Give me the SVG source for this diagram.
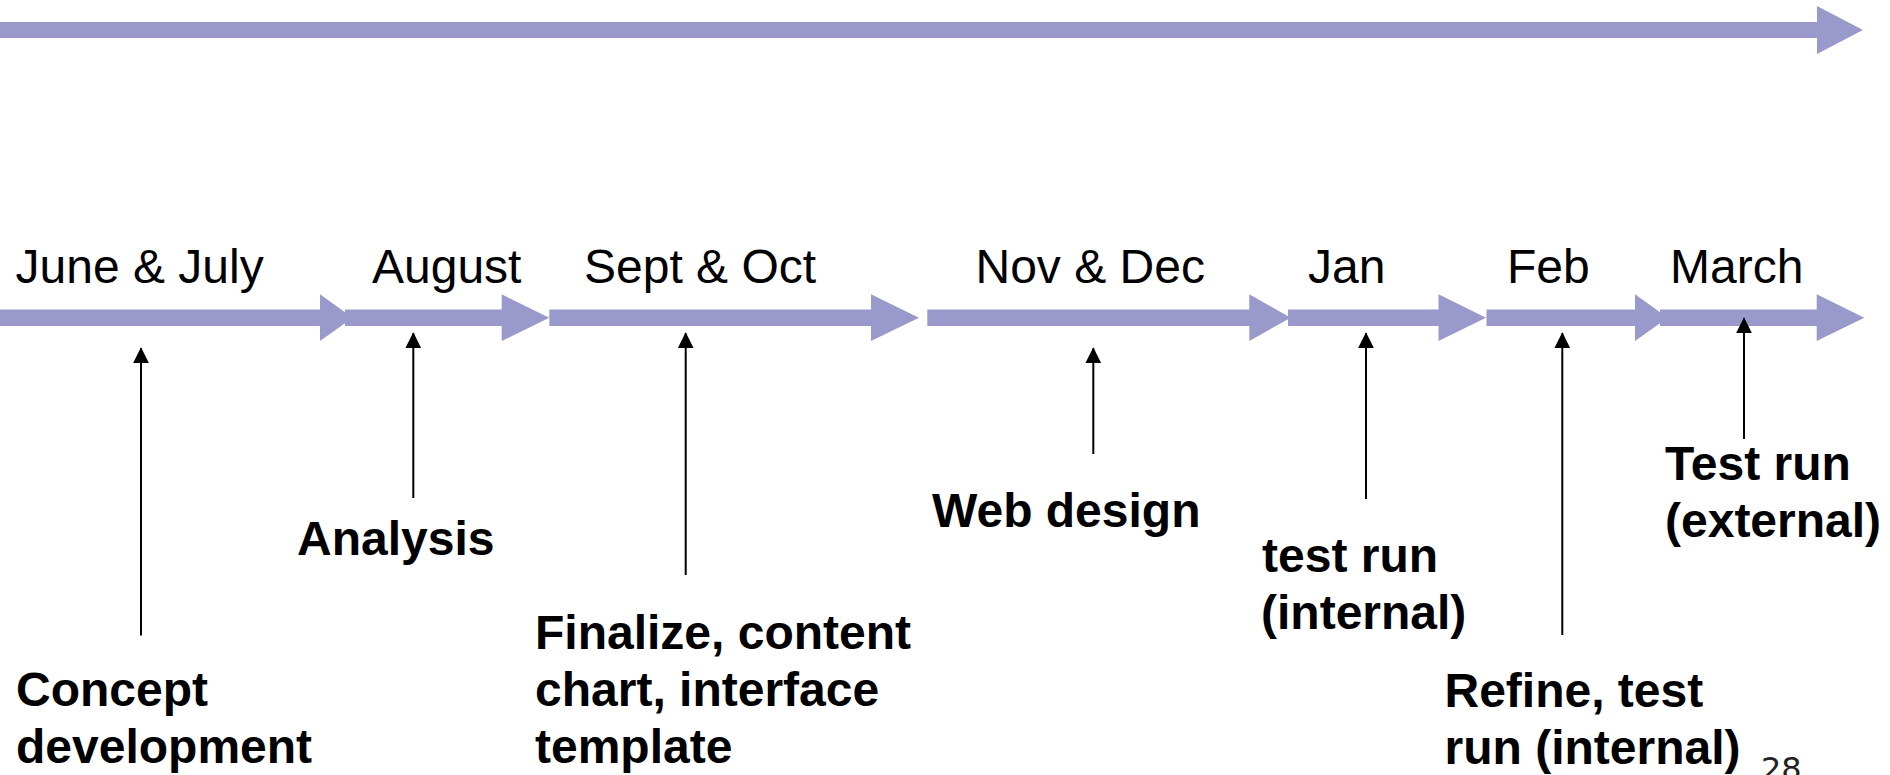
<svg xmlns="http://www.w3.org/2000/svg" width="1890" height="775" viewBox="0 0 1890 775">
<style>
.bar{fill:#9999cc}
.month{font-family:"Liberation Sans",Arial,sans-serif;font-size:48px;fill:#000}
.lbl{font-family:"Liberation Sans",Arial,sans-serif;font-size:48px;font-weight:bold;fill:#000}
.conn{stroke:#000;stroke-width:2;fill:none;marker-end:url(#ah)}
.pg{font-family:"DejaVu Sans",Verdana,sans-serif;font-size:32px;fill:#222}
</style>
<defs>
<marker id="ah" markerUnits="userSpaceOnUse" markerWidth="16" markerHeight="16" viewBox="0 0 16 16" refX="15" refY="8" orient="auto">
<path d="M0,0 L16,8 L0,16 Z" fill="#000"/>
</marker>
</defs>
<rect width="1890" height="775" fill="#fff"/>
<g id="top-arrow">
<polygon class="bar" points="0,22 1817,22 1817,6 1863,30 1817,54 1817,38 0,38"/>
</g>
<g id="timeline">
<polygon class="bar" points="0,309.5 320,309.5 320,294.3 352.7,317.7 320,341 320,326 0,326"/>
<polygon class="bar" points="345,309.5 501.7,309.5 501.7,294.3 549.3,317.7 501.7,341 501.7,326 345,326"/>
<polygon class="bar" points="549.3,309.5 871,309.5 871,294.3 919,317.7 871,341 871,326 549.3,326"/>
<polygon class="bar" points="927.3,309.5 1249.3,309.5 1249.3,294.3 1290.7,317.7 1249.3,341 1249.3,326 927.3,326"/>
<polygon class="bar" points="1288,309.5 1438.5,309.5 1438.5,294.3 1486,317.7 1438.5,341 1438.5,326 1288,326"/>
<polygon class="bar" points="1486.5,309.5 1635,309.5 1635,294.3 1667.7,317.7 1635,341 1635,326 1486.5,326"/>
<polygon class="bar" points="1660,309.5 1816.7,309.5 1816.7,294.3 1864.3,317.7 1816.7,341 1816.7,326 1660,326"/>
</g>
<g id="months">
<text class="month" x="15.5" y="283">June &amp; July</text>
<text class="month" x="372" y="283">August</text>
<text class="month" x="584" y="283">Sept &amp; Oct</text>
<text class="month" x="975.5" y="283">Nov &amp; Dec</text>
<text class="month" x="1308" y="283">Jan</text>
<text class="month" x="1507" y="283">Feb</text>
<text class="month" x="1670" y="283">March</text>
</g>
<g id="connectors">
<line class="conn" x1="141" y1="635.5" x2="141" y2="348.3"/>
<line class="conn" x1="413.3" y1="498" x2="413.3" y2="333.3"/>
<line class="conn" x1="685.7" y1="575" x2="685.7" y2="333.3"/>
<line class="conn" x1="1093.3" y1="454" x2="1093.3" y2="348.3"/>
<line class="conn" x1="1366" y1="499" x2="1366" y2="333.3"/>
<line class="conn" x1="1562.3" y1="635" x2="1562.3" y2="333.3"/>
<line class="conn" x1="1744" y1="439" x2="1744" y2="318.3"/>
</g>
<g id="concept">
<text class="lbl" x="16" y="706">Concept</text>
<text class="lbl" x="16" y="763">development</text>
</g>
<g id="analysis">
<text class="lbl" x="297" y="555">Analysis</text>
</g>
<g id="finalize">
<text class="lbl" x="535" y="649">Finalize, content</text>
<text class="lbl" x="535" y="706">chart, interface</text>
<text class="lbl" x="535" y="763">template</text>
</g>
<g id="web-design">
<text class="lbl" x="932" y="527">Web design</text>
</g>
<g id="test-internal">
<text class="lbl" x="1262" y="572">test run</text>
<text class="lbl" x="1261" y="629">(internal)</text>
</g>
<g id="refine">
<text class="lbl" x="1444.5" y="706.5">Refine, test</text>
<text class="lbl" x="1444.5" y="763.5">run (internal)</text>
</g>
<g id="test-external">
<text class="lbl" x="1665" y="480">Test run</text>
<text class="lbl" x="1665" y="537">(external)</text>
</g>
<text class="pg" x="1761" y="780">28</text>
</svg>
